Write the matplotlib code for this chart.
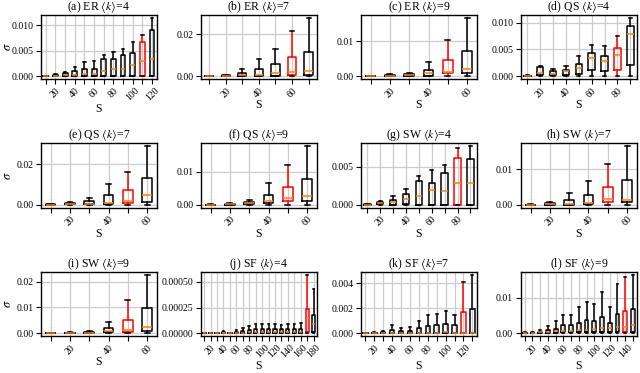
import matplotlib
matplotlib.use('Agg')
import matplotlib.pyplot as plt
from matplotlib.ticker import FormatStrFormatter

plt.rcParams['font.family'] = 'Liberation Serif'
plt.rcParams['mathtext.fontset'] = 'stix'

# box statistics: whisker top, q3, median, q1 (whisker bottom ~0)
a_s = [10, 20, 30, 40, 50, 60, 70, 80, 90, 100, 110, 120]
a_hi = [0.0001, 0.0004, 0.0009, 0.0018, 0.0028, 0.0029, 0.0042, 0.0047, 0.0053, 0.0066, 0.0081, 0.0114]
a_q3 = [0.00005, 0.0003, 0.0006, 0.0011, 0.0015, 0.0015, 0.0034, 0.0034, 0.0042, 0.0046, 0.0066, 0.0091]
a_med = [0.0, 0.0001, 0.0002, 0.0002, 0.0004, 0.0005, 0.0011, 0.0014, 0.0015, 0.0021, 0.0029, 0.0034]
a_q1 = [0, 0, 0.0001, 0, 0, 0, 0, 0, 0, 0, 0, 0]

b_s = [10, 20, 30, 40, 50, 60, 70]
b_hi = [0.0001, 0.0007, 0.0035, 0.0081, 0.013, 0.0214, 0.0278]
b_q3 = [0.00005, 0.0004, 0.0016, 0.0033, 0.0059, 0.009, 0.0114]
b_med = [0, 0.0001, 0.0004, 0.0008, 0.0017, 0.002, 0.0024]
b_q1 = [0, 0, 0.0001, 0.0002, 0.0003, 0.0005, 0.0005]

c_s = [10, 20, 30, 40, 50, 60]
c_hi = [0.0001, 0.0005, 0.0008, 0.0042, 0.0104, 0.0167]
c_q3 = [0.00005, 0.0003, 0.0006, 0.0018, 0.0047, 0.0071]
c_med = [0, 0.0002, 0.0004, 0.001, 0.0013, 0.0021]
c_q1 = [0, 0.0001, 0.0002, 0.0001, 0.0009, 0.001]

d_s = [10, 20, 30, 40, 50, 60, 70, 80, 90]
d_hi = [0.0002, 0.0019, 0.0013, 0.0019, 0.0037, 0.0058, 0.0056, 0.0075, 0.0109]
d_q3 = [0.0001, 0.0017, 0.0009, 0.0012, 0.0023, 0.0044, 0.0037, 0.0053, 0.0094]
d_med = [0.0001, 0.0006, 0.0004, 0.0009, 0.0015, 0.0034, 0.0028, 0.004, 0.0078]
d_q1 = [0, 0.0002, 0.0002, 0.0002, 0.0004, 0.0011, 0.0009, 0.0012, 0.0021]

e_s = [10, 20, 30, 40, 50, 60]
e_hi = [0.0002, 0.0012, 0.0033, 0.0103, 0.0162, 0.029]
e_q3 = [0.0001, 0.0007, 0.0017, 0.0047, 0.0073, 0.0133]
e_med = [0, 0.0002, 0.0003, 0.0007, 0.0017, 0.0048]
e_q1 = [0, 0.0001, 0.0001, 0.0001, 0.001, 0.0012]

f_s = [10, 20, 30, 40, 50, 60]
f_hi = [0.0001, 0.0005, 0.0014, 0.0066, 0.012, 0.0176]
f_q3 = [0.00005, 0.0003, 0.0008, 0.0029, 0.0053, 0.0077]
f_med = [0, 0.0001, 0.0004, 0.001, 0.002, 0.0025]
f_q1 = [0, 0, 0.0001, 0.0004, 0.001, 0.0011]

g_s = [10, 20, 30, 40, 50, 60, 70, 80, 90]
g_hi = [0.0001, 0.0005, 0.0011, 0.0021, 0.0038, 0.0046, 0.0052, 0.0075, 0.0077]
g_q3 = [0.00005, 0.0004, 0.0006, 0.0014, 0.0031, 0.0029, 0.0042, 0.0061, 0.006]
g_med = [0, 0.0002, 0.0004, 0.0008, 0.0011, 0.0019, 0.0018, 0.0028, 0.0029]
g_q1 = [0, 0.0001, 0, 0.0001, 0, 0, 0, 0, 0]

h_s = [10, 20, 30, 40, 50, 60]
h_hi = [0.0001, 0.0008, 0.0032, 0.0066, 0.0115, 0.0164]
h_q3 = [0.00005, 0.0005, 0.0013, 0.0028, 0.005, 0.0069]
h_med = [0, 0.0002, 0.0003, 0.0006, 0.0017, 0.0013]
h_q1 = [0, 0, 0, 0.0001, 0.0008, 0.0008]

i_s = [10, 20, 30, 40, 50, 60]
i_hi = [0.0001, 0.0004, 0.0008, 0.0042, 0.0129, 0.0227]
i_q3 = [0.00005, 0.0002, 0.0004, 0.0021, 0.0052, 0.0097]
i_med = [0, 0.0001, 0.0002, 0.0009, 0.0012, 0.0025]
i_q1 = [0, 0, 0, 0.0004, 0.0003, 0.0009]

j_s = [10, 20, 30, 40, 50, 60, 70, 80, 90, 100, 110, 120, 130, 140, 150, 160, 170, 180]
j_hi = [0.000001, 0.000002, 0.000003, 0.000023, 0.000005, 0.00003, 0.00005, 0.00007, 0.00009,
        0.00009, 0.00009, 0.00009, 0.00008, 0.00009, 0.00009, 0.000095, 0.00057, 0.00043]
j_q3 = [0, 0.000001, 0.000001, 0.00001, 0.000002, 0.000015, 0.00002, 0.000026, 0.00004,
        0.00004, 0.00004, 0.00004, 0.000038, 0.00004, 0.00004, 0.00004, 0.000233, 0.000178]
j_med = [0, 0, 0, 0.000004, 0.000001, 0.000005, 0.000006, 0.00001, 0.000016,
         0.000016, 0.000016, 0.000016, 0.000015, 0.000016, 0.000016, 0.000016, 0.000145, 0.000085]
j_q1 = [0, 0, 0, 0, 0, 0, 0, 0, 0, 0, 0, 0, 0, 0, 0, 0, 0.000007, 0.000007]

k_s = [10, 20, 30, 40, 50, 60, 70, 80, 90, 100, 110, 120, 130]
k_hi = [0.00002, 0.00013, 0.00014, 0.00065, 0.00038, 0.0005, 0.00095, 0.00143, 0.00157, 0.0018, 0.0015, 0.0041, 0.0047]
k_q3 = [0.00001, 0.00005, 0.00006, 0.00027, 0.00016, 0.0002, 0.0004, 0.0006, 0.00062, 0.0007, 0.00062, 0.00168, 0.00197]
k_med = [0, 0.00001, 0.00001, 0.00002, 0.00001, 0.00002, 0.00002, 0.00002, 0.00002, 0.00008, 0.00004, 0.00001, 0.00002]
k_q1 = [0, 0, 0, 0, 0, 0, 0, 0, 0, 0, 0, 0, 0]

l_s = [10, 20, 30, 40, 50, 60, 70, 80, 90, 100, 110, 120, 130, 140, 150]
l_hi = [0.0002, 0.0004, 0.0009, 0.0019, 0.0034, 0.0052, 0.0051, 0.0074, 0.0088, 0.0081, 0.0115, 0.0074, 0.0138, 0.016, 0.0165]
l_q3 = [0.0001, 0.0002, 0.0004, 0.0008, 0.0013, 0.0023, 0.0022, 0.0028, 0.0036, 0.0033, 0.0047, 0.003, 0.0055, 0.0064, 0.0067]
l_med = [0.00005, 0.0001, 0.0002, 0.0004, 0.0005, 0.0006, 0.0007, 0.0009, 0.001, 0.0011, 0.0015, 0.0015, 0.0017, 0.0018, 0.0023]
l_q1 = [0, 0, 0.0001, 0.0001, 0.0001, 0.0002, 0.0002, 0.0002, 0.0003, 0.0003, 0.0003, 0.0003, 0.0003, 0.0003, 0.0004]

titles = [r'(a) ER $\langle k\rangle$=4', r'(b) ER $\langle k\rangle$=7', r'(c) ER $\langle k\rangle$=9',
          r'(d) QS $\langle k\rangle$=4', r'(e) QS $\langle k\rangle$=7', r'(f) QS $\langle k\rangle$=9',
          r'(g) SW $\langle k\rangle$=4', r'(h) SW $\langle k\rangle$=7', r'(i) SW $\langle k\rangle$=9',
          r'(j) SF $\langle k\rangle$=4', r'(k) SF $\langle k\rangle$=7', r'(l) SF $\langle k\rangle$=9']
yticks = [[0, 0.005, 0.010], [0, 0.02], [0, 0.01], [0, 0.005, 0.010],
          [0, 0.02], [0, 0.01], [0, 0.005], [0, 0.01],
          [0, 0.01, 0.02], [0, 0.00025, 0.0005], [0, 0.002, 0.004], [0, 0.01]]
yfmts = ['%.3f', '%.2f', '%.2f', '%.3f', '%.2f', '%.2f', '%.3f', '%.2f', '%.2f', '%.5f', '%.3f', '%.2f']

panels = [(a_s, a_hi, a_q3, a_med, a_q1), (b_s, b_hi, b_q3, b_med, b_q1),
          (c_s, c_hi, c_q3, c_med, c_q1), (d_s, d_hi, d_q3, d_med, d_q1),
          (e_s, e_hi, e_q3, e_med, e_q1), (f_s, f_hi, f_q3, f_med, f_q1),
          (g_s, g_hi, g_q3, g_med, g_q1), (h_s, h_hi, h_q3, h_med, h_q1),
          (i_s, i_hi, i_q3, i_med, i_q1), (j_s, j_hi, j_q3, j_med, j_q1),
          (k_s, k_hi, k_q3, k_med, k_q1), (l_s, l_hi, l_q3, l_med, l_q1)]

fig, axes = plt.subplots(3, 4, figsize=(6.4, 3.73), dpi=100)
fig.subplots_adjust(left=0.064, right=0.995, top=0.96, bottom=0.099, wspace=0.38, hspace=1.0)

for n, ax in enumerate(axes.flat):
    s, hi, q3, med, q1 = panels[n]
    stats = []
    for k in range(len(s)):
        stats.append(dict(whislo=0.0, q1=q1[k], med=med[k], q3=q3[k], whishi=hi[k], fliers=[]))
    pos = list(range(1, len(s) + 1))
    bp = ax.bxp(stats, positions=pos, widths=0.5, showfliers=False,
                boxprops=dict(color='black', lw=1.1),
                whiskerprops=dict(color='black', lw=1.1),
                capprops=dict(color='black', lw=1.1),
                medianprops=dict(color='#ff7f0e', lw=1.1))
    # second to last box highlighted in red
    bp['boxes'][-2].set_color('red')
    bp['whiskers'][-4].set_color('red')
    bp['whiskers'][-3].set_color('red')

    ax.set_xticks(pos)
    ax.set_xticklabels([str(v) if v % 20 == 0 else '' for v in s], rotation=45, fontsize=7)
    ax.set_yticks(yticks[n])
    ax.yaxis.set_major_formatter(FormatStrFormatter(yfmts[n]))
    ax.tick_params(axis='y', labelsize=7, length=3.5, pad=2)
    ax.tick_params(axis='x', length=3.5, pad=1.5)
    for sp in ax.spines.values():
        sp.set_linewidth(1.0)
    ax.grid(True, color='#cccccc', lw=0.9)
    ax.set_axisbelow(True)
    ax.set_title(titles[n], fontsize=8.5, pad=3)
    ax.set_xlabel('S', fontsize=8.5, labelpad=0)
    if n % 4 == 0:
        ax.set_ylabel(r'$\sigma$', fontsize=9)
        ax.yaxis.set_label_coords(-0.235, 0.5)

plt.savefig('out.png', dpi=100)
